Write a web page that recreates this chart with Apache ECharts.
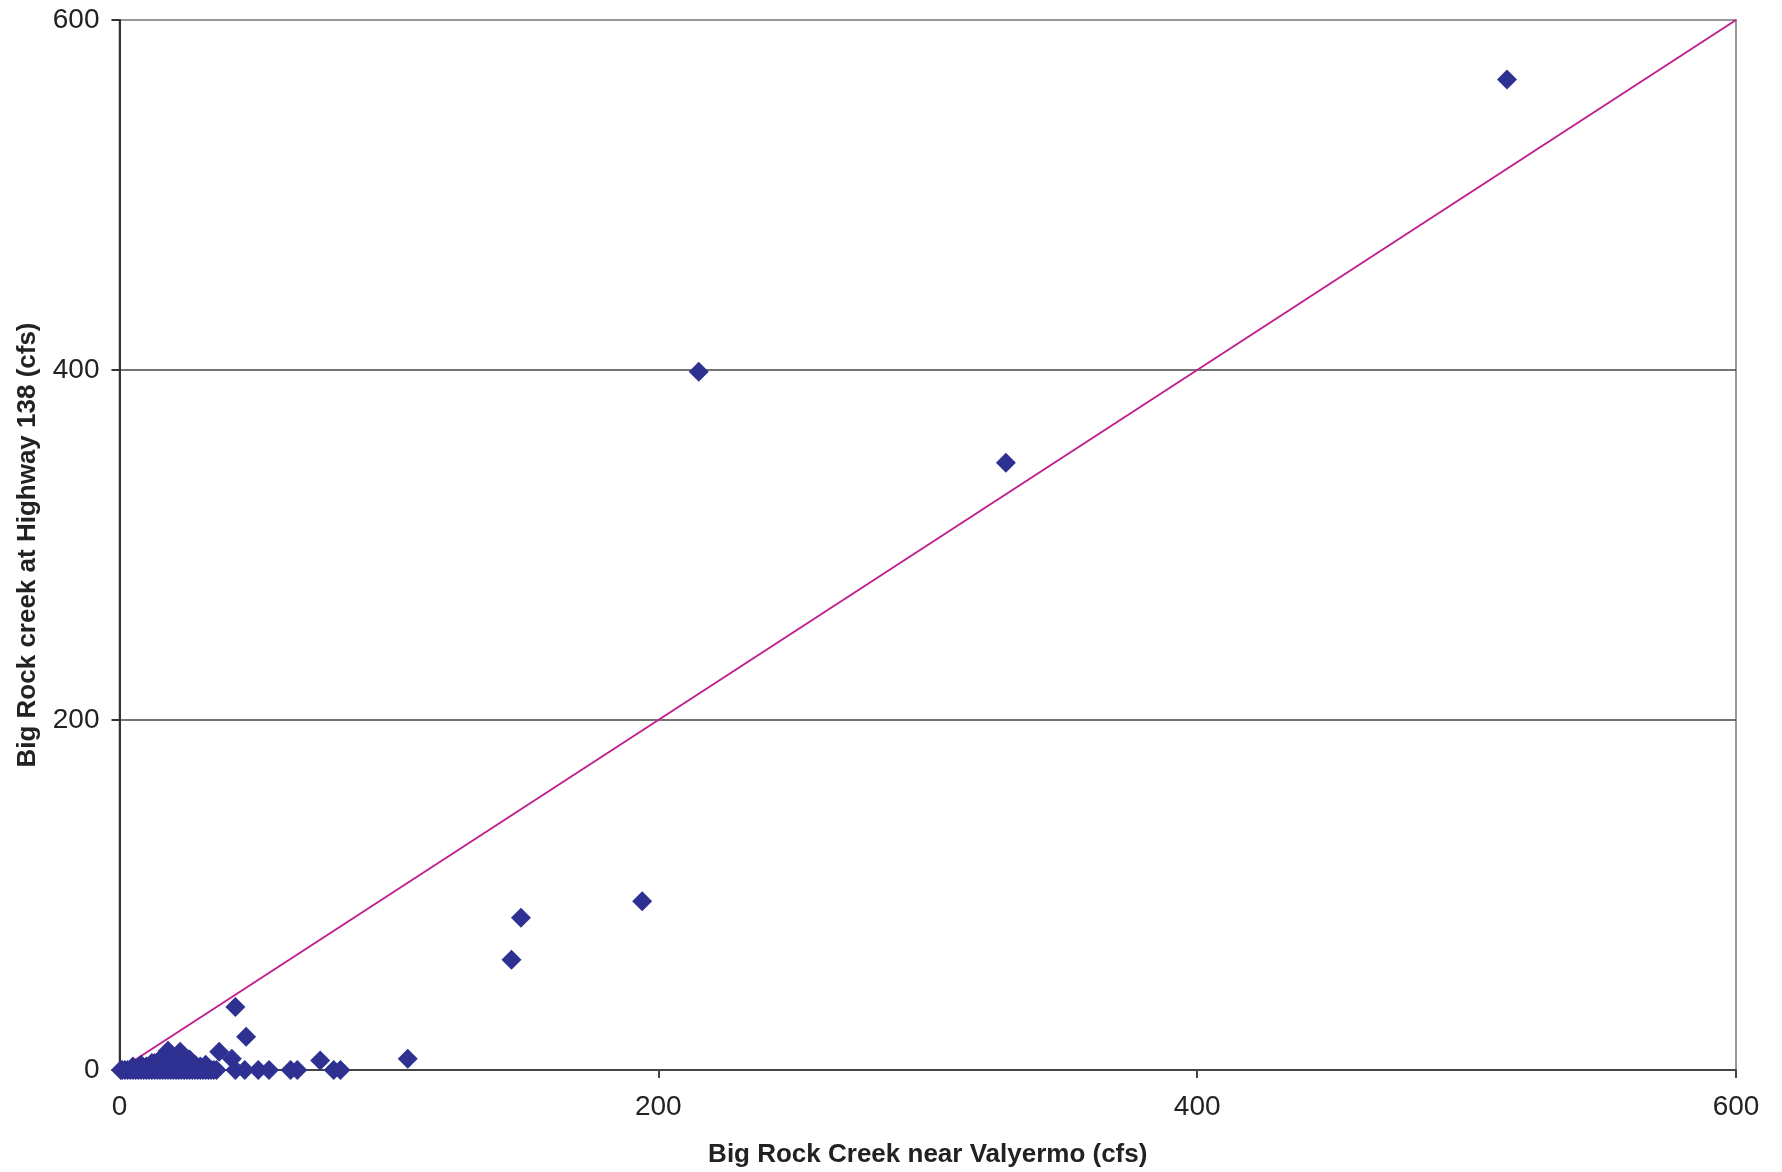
<!DOCTYPE html>
<html>
<head>
<meta charset="utf-8">
<title>Big Rock Creek</title>
<script src="https://cdn.jsdelivr.net/npm/echarts@6/dist/echarts.min.js"></script>
<style>
  html, body { margin: 0; padding: 0; background: #fff; }
  #chart { width: 1782px; height: 1172px; }
</style>
</head>
<body>
<div id="chart"></div>
<script>
// flow at Valyermo (x) vs flow at Highway 138 (y), cfs
const valyermo = [
  515, 215, 329, 194, 149, 145.5, 107, 43, 47, 37, 41.7, 74.5, 18, 22.5,
  43, 46.5, 51.5, 55.5, 63.5, 66, 79.5, 82,
  0.5, 1, 2, 3, 4, 5, 6, 7, 8, 9, 10, 11, 12, 13, 14, 15, 16, 17, 18, 19,
  20, 21, 22, 23, 24, 25, 26, 27, 28, 29, 30, 31, 32, 33, 34, 35, 36,
  5, 8, 10, 12, 13, 15, 16, 18, 20, 24, 26, 27, 28, 30, 32
];
const highway138 = [
  566, 399, 347, 96.5, 87, 63, 6.5, 36, 19, 10.5, 6.5, 5.5, 11, 10.5,
  0, 0, 0, 0, 0, 0, 0, 0,
  0, 0, 0, 0, 0, 0, 0, 0, 0, 0, 0, 0, 0, 0, 0, 0, 0, 0, 0, 0,
  0, 0, 0, 0, 0, 0, 0, 0, 0, 0, 0, 0, 0, 0, 0, 0, 0,
  2, 3, 2, 4, 4, 6, 3, 3, 4, 3, 6, 4, 3, 2, 3
];
const oneToOne = [0, 600];

const chart = echarts.init(document.getElementById("chart"));
const font = "Liberation Sans, Arial, sans-serif";

chart.setOption({
  animation: false,
  grid: {
    left: 119.5,
    top: 20,
    right: 46,
    bottom: 102,
    containLabel: false,
    outerBoundsMode: "none",
    show: true,
    borderColor: "#999",
    borderWidth: 2
  },
  xAxis: {
    type: "value",
    min: 0,
    max: 600,
    interval: 200,
    name: "Big Rock Creek near Valyermo (cfs)",
    nameLocation: "middle",
    nameGap: 72,
    nameTextStyle: { fontFamily: font, fontSize: 26, fontWeight: "bold", color: "#222" },
    axisLine: { lineStyle: { color: "#444", width: 2 } },
    axisTick: { show: true, length: 8, lineStyle: { color: "#444", width: 2 } },
    axisLabel: { fontFamily: font, fontSize: 28, color: "#222", margin: 23 },
    splitLine: { show: false }
  },
  yAxis: {
    type: "value",
    min: 0,
    max: 600,
    interval: 200,
    name: "Big Rock creek at Highway 138 (cfs)",
    nameLocation: "middle",
    nameGap: 79,
    nameTextStyle: { fontFamily: font, fontSize: 26, fontWeight: "bold", color: "#222" },
    axisLine: { lineStyle: { color: "#333", width: 2 } },
    axisTick: { show: true, length: 8, lineStyle: { color: "#333", width: 2 } },
    axisLabel: { fontFamily: font, fontSize: 28, color: "#222", margin: 20 },
    splitLine: { show: true, lineStyle: { color: ["#444", "#444", "#444", "#999"], width: 1.5 } }
  },
  series: [
    {
      type: "line",
      data: oneToOne.map(v => [v, v]),
      symbol: "none",
      lineStyle: { color: "#c0208f", width: 2 },
      z: 2
    },
    {
      type: "scatter",
      data: valyermo.map((v, i) => [v, highway138[i]]),
      symbol: "diamond",
      symbolSize: 20,
      itemStyle: { color: "#2e3192", opacity: 1 },
      z: 3
    }
  ]
});
</script>
</body>
</html>
